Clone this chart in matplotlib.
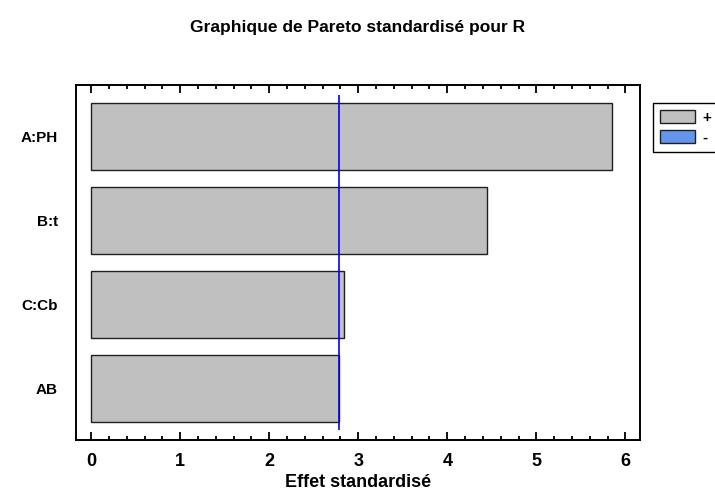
import matplotlib
matplotlib.use("Agg")
import matplotlib.pyplot as plt
from matplotlib.patches import Patch
from matplotlib.ticker import MultipleLocator

plt.rcParams["font.family"] = ["Liberation Sans", "DejaVu Sans"]
plt.rcParams["font.weight"] = "bold"

# standardized effects (Pareto chart)
factors = ["A:PH", "B:t", "C:Cb", "AB"]
effects = [5.85, 4.45, 2.835, 2.78]
signs = ["+", "+", "+", "+"]
critical = 2.78

POS, NEG = "#c0c0c0", "#6495ed"

fig = plt.figure(figsize=(7.15, 4.93), dpi=100)
ax = fig.add_axes([0.1063, 0.1075, 0.7895, 0.7201])

ypos = list(range(len(factors)))
ax.barh(ypos, effects, height=0.8, color=[POS if s == "+" else NEG for s in signs],
        edgecolor="#202020", linewidth=1.0)
ax.vlines(critical, -0.5, 3.5, color="#0000ff", lw=1.2)

ax.set_xlim(-0.17, 6.17)
ax.set_ylim(3.62, -0.62)
ax.set_yticks(ypos)
ax.set_yticklabels(factors, fontsize=11, fontweight="bold")
ax.xaxis.set_major_locator(MultipleLocator(1))
ax.xaxis.set_minor_locator(MultipleLocator(0.2))
ax.tick_params(axis="x", which="both", direction="in", top=True, width=1.3, labelsize=13, pad=9)
ax.tick_params(axis="x", which="major", length=6)
ax.tick_params(axis="x", which="minor", length=3)
ax.tick_params(axis="y", length=0, pad=13)
for lab in ax.get_xticklabels():
    lab.set_fontweight("bold")
for s in ax.spines.values():
    s.set_linewidth(1.4)

ax.set_xlabel("Effet standardisé", fontsize=13, fontweight="bold", labelpad=3)
fig.suptitle("Graphique de Pareto standardisé pour R", fontsize=12.5, fontweight="bold", y=0.96)

handles = [Patch(facecolor=POS, edgecolor="#202020", label="+"),
           Patch(facecolor=NEG, edgecolor="#202020", label="-")]
leg = fig.legend(handles=handles, loc="upper left", bbox_to_anchor=(653 / 715, 1 - 103 / 493),
                 fancybox=False, edgecolor="black", framealpha=1, fontsize=11,
                 handlelength=2.3, handleheight=0.95, handletextpad=0.5, borderpad=0.45,
                 labelspacing=0.35, borderaxespad=0)
leg.get_frame().set_linewidth(1.0)
for t in leg.get_texts():
    t.set_fontweight("bold")

fig.savefig("out.png", dpi=100)
